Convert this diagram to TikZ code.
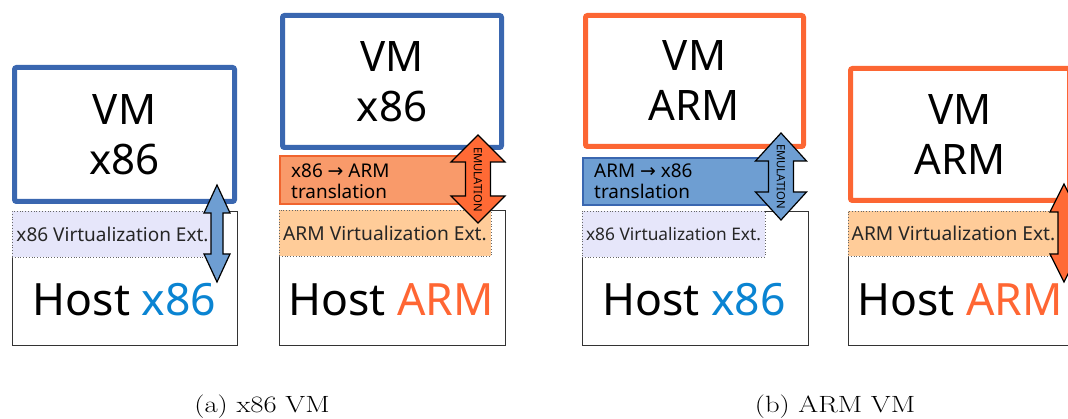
\documentclass[tikz,border=0pt]{standalone}
\usepackage{fontspec}
\newfontfamily\dsans{Noto Sans}
\newfontfamily\darr{DejaVu Sans}
\definecolor{vmblue}{HTML}{3A67B0}
\definecolor{vmorange}{HTML}{FC6633}
\definecolor{trorangefill}{HTML}{F99A6A}
\definecolor{trorangedraw}{HTML}{F0642E}
\definecolor{trbluefill}{HTML}{6E9ED2}
\definecolor{trbluedraw}{HTML}{3A67B0}
\definecolor{arrblue}{HTML}{6E9ED2}
\definecolor{arrorange}{HTML}{FF6A35}
\definecolor{lav}{HTML}{E6E6FA}
\definecolor{lorange}{HTML}{FFCC99}
\definecolor{hostblue}{HTML}{0A84D2}
\definecolor{hostorange}{HTML}{FF6633}
\newcommand\emarrow[7]{\draw[emarrowline,#1] (#2,#3) -- ({#2+#5},{#3+#7}) -- ({#2+#6},{#3+#7}) -- ({#2+#6},{#4-#7}) -- ({#2+#5},{#4-#7}) -- (#2,#4) -- ({#2-#5},{#4-#7}) -- ({#2-#6},{#4-#7}) -- ({#2-#6},{#3+#7}) -- ({#2-#5},{#3+#7}) -- cycle;}
\begin{document}
\begin{tikzpicture}[x=1pt,y=-1pt,
  vmbox/.style={draw, line width=5pt, rounded corners=2pt, fill=white, inner sep=0pt,
     font=\dsans\fontsize{42}{50}\selectfont, align=center},
  hostbox/.style={draw=black!80, line width=0.8pt, fill=white, inner sep=0pt},
  extbox/.style={draw=black!60, dotted, line width=0.8pt, inner sep=0pt, text=black!85},
  transbox/.style={draw, line width=2.5pt, inner sep=0pt},
  hosttext/.style={font=\dsans\fontsize{44.5}{50}\selectfont, inner sep=0pt, anchor=base},
  transtext/.style={font=\dsans\fontsize{18.9}{21}\selectfont, align=left, inner sep=0pt, anchor=west},
  emtext/.style={font=\dsans\fontsize{11.3}{12}\selectfont, rotate=-90, inner sep=0pt},
  emarrowline/.style={draw=black, line width=1.2pt, line join=miter},
  captext/.style={font=\fontsize{23.5}{28}\selectfont, anchor=base, inner sep=0pt}
]
\useasboundingbox (0,0) rectangle (1068,419);
\clip (0,0) rectangle (1068,419);

% ---------- panel 1 ----------
\node[hostbox, minimum width=225pt, minimum height=134pt] (host1) at (124.5,278) {};
\node[extbox, fill=lav, minimum width=201pt, minimum height=46pt, font=\dsans\fontsize{19}{22}\selectfont] (ext1) at (112.5,234) {x86 Virtualization Ext.};
\node[vmbox, draw=vmblue, minimum width=220pt, minimum height=134pt] (vm1) at (124.5,134.5) {VM\\x86};
\node[hosttext] (ht1) at (124.5,316) {Host \textcolor{hostblue}{x86}};
\emarrow{fill=arrblue}{217}{185}{282}{13}{6}{28}

% ---------- panel 2 ----------
\node[hostbox, minimum width=226pt, minimum height=135pt] (host2) at (392,277.5) {};
\node[extbox, fill=lorange, minimum width=212pt, minimum height=46pt, font=\dsans\fontsize{19.2}{22}\selectfont] (ext2) at (385,233) {ARM Virtualization Ext.};
\node[vmbox, draw=vmblue, minimum width=219pt, minimum height=132pt] (vm2) at (392,81.5) {VM\\x86};
\node[transbox, draw=trorangedraw, fill=trorangefill, minimum width=200pt, minimum height=48pt] (tr2) at (380,180) {};
\node[transtext] (tt2) at (291,181) {x86 {\darr →} ARM\\translation};
\node[hosttext] (ht2) at (391,316) {Host \textcolor{hostorange}{ARM}};
\emarrow{fill=arrorange}{478}{135}{223}{27}{12.5}{27}
\node[emtext] (em2) at (478,179.5) {EMULATION};

% ---------- panel 3 ----------
\node[hostbox, minimum width=226pt, minimum height=134pt] (host3) at (695,278) {};
\node[extbox, fill=lav, minimum width=183pt, minimum height=46pt, font=\dsans\fontsize{17.3}{20}\selectfont] (ext3) at (673.5,234) {x86 Virtualization Ext.};
\node[vmbox, draw=vmorange, minimum width=218pt, minimum height=131pt] (vm3) at (694.5,81) {VM\\ARM};
\node[transbox, draw=trbluedraw, fill=trbluefill, minimum width=199pt, minimum height=47pt] (tr3) at (682.5,181.5) {};
\node[transtext] (tt3) at (594,181) {ARM {\darr →} x86\\translation};
\node[hosttext] (ht3) at (694,316) {Host \textcolor{hostblue}{x86}};
\emarrow{fill=arrblue}{781}{133}{220}{25.5}{12.5}{28}
\node[emtext] (em3) at (781,176.5) {EMULATION};

% ---------- panel 4 ----------
\node[hostbox, minimum width=225pt, minimum height=134pt] (host4) at (960.5,278) {};
\node[extbox, fill=lorange, minimum width=211pt, minimum height=45pt, font=\dsans\fontsize{19.2}{22}\selectfont] (ext4) at (953.5,233.5) {ARM Virtualization Ext.};
\node[vmbox, draw=vmorange, minimum width=219pt, minimum height=132pt] (vm4) at (960,134.5) {VM\\ARM};
\node[hosttext] (ht4) at (960,316) {Host \textcolor{hostorange}{ARM}};
\emarrow{fill=arrorange}{1064}{184}{282}{14}{6}{28}

% ---------- captions ----------
\node[captext] (capa) at (262,413) {\scalebox{1.22}[1]{(a) x86 VM}};
\node[captext] (capb) at (835,413) {\scalebox{1.22}[1]{(b) ARM VM}};
\end{tikzpicture}
\end{document}
